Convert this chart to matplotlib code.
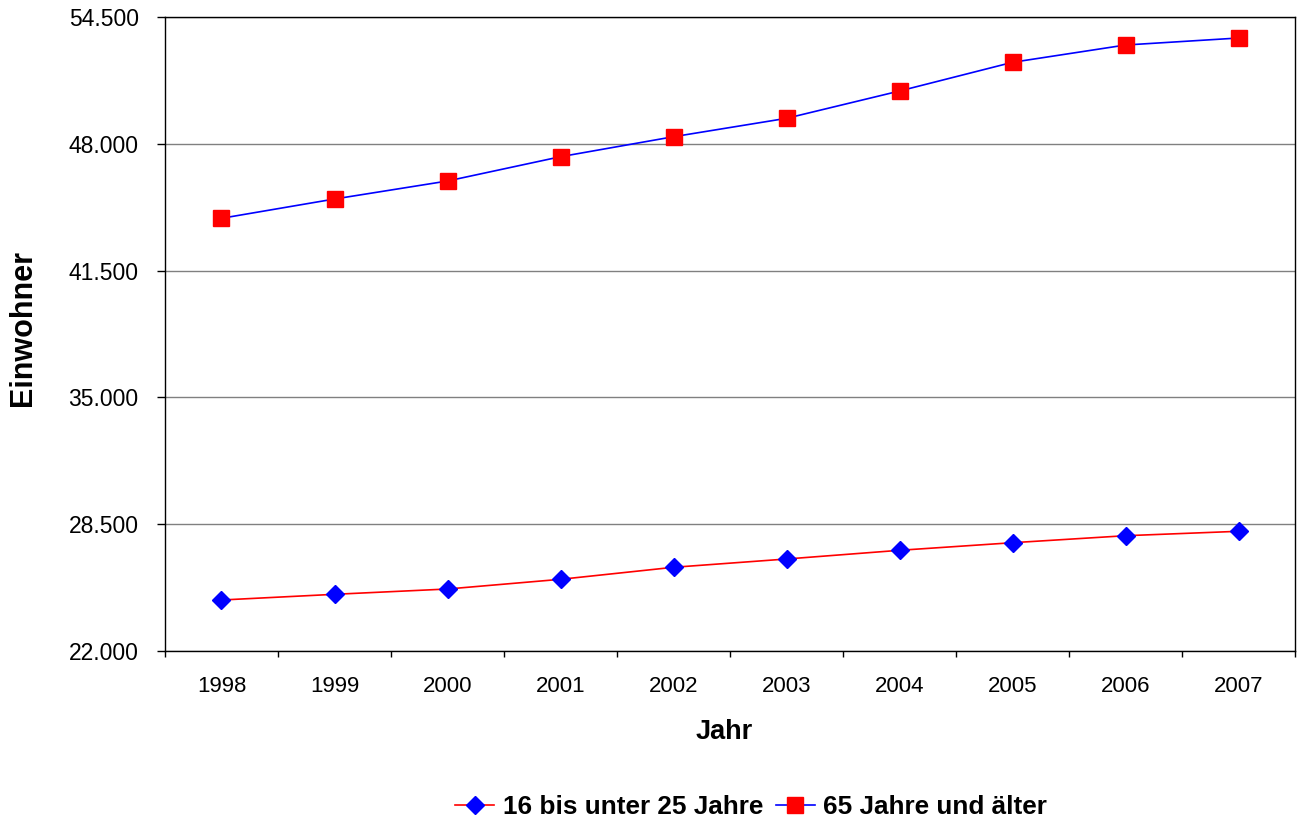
import numpy as np
import matplotlib
matplotlib.use("Agg")
import matplotlib.pyplot as plt
from matplotlib.ticker import FuncFormatter

plt.rcParams['font.family'] = ['Liberation Sans', 'DejaVu Sans']

jahre = ["1998", "1999", "2000", "2001", "2002", "2003", "2004", "2005", "2006", "2007"]
jung = [24614, 24906, 25178, 25675, 26291, 26716, 27162, 27551, 27910, 28136]
alt = [44181, 45170, 46093, 47338, 48363, 49306, 50706, 52177, 53064, 53423]

fig = plt.figure(figsize=(12.97, 8.25), dpi=100)
ax = fig.add_axes([165/1297, 174/825, 1130/1297, 634/825])

x = np.arange(len(jahre))
ax.plot(x, jung, color="red", lw=1.2, marker="D", ms=9, mfc="blue", mec="blue",
        label="16 bis unter 25 Jahre")
ax.plot(x, alt, color="blue", lw=1.2, marker="s", ms=11, mfc="red", mec="red",
        label="65 Jahre und älter")

ax.set_xlim(-0.5, len(jahre) - 0.5)
ax.set_ylim(22000, 54500)
ax.set_yticks(np.arange(22000, 54501, 6500))
ax.yaxis.set_major_formatter(FuncFormatter(lambda v, p: f"{int(v):,}".replace(",", ".")))
ax.set_xticks(x)
ax.set_xticklabels(jahre)
ax.set_xticks(np.arange(-0.5, len(jahre)), minor=True)
ax.tick_params(axis="x", which="major", length=0, pad=18, labelsize=16)
ax.tick_params(axis="x", which="minor", length=4.5, width=1)
ax.tick_params(axis="y", length=6, width=1, labelsize=16.5, pad=13)

ax.grid(axis="y", color="#808080", lw=1)
ax.set_axisbelow(True)
for s in ax.spines.values():
    s.set_linewidth(1.0)

ax.set_xlabel("Jahr", fontsize=19.5, fontweight="bold")
ax.xaxis.set_label_coords(0.495, -0.107)
ax.set_ylabel("Einwohner", fontsize=22, fontweight="bold")
ax.yaxis.set_label_coords(-0.1124, 0.51)

fig.legend(loc="center", bbox_to_anchor=(751/1297, 1 - 807/825), ncol=2, frameon=False,
           prop={"size": 18.8, "weight": "bold"}, handlelength=1.5, handletextpad=0.32,
           columnspacing=0.48)

fig.savefig("out.png", dpi=100)
